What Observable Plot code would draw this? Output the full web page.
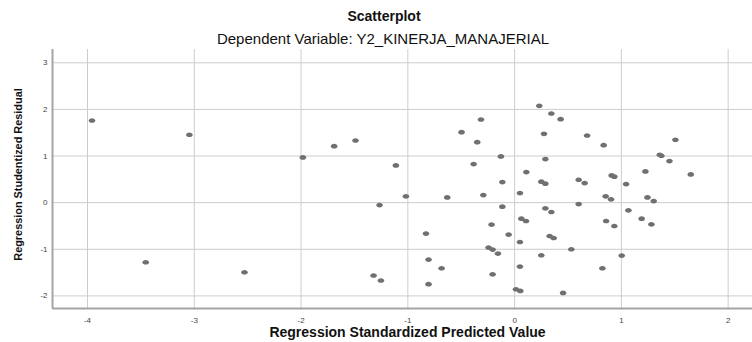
<!DOCTYPE html>
<html>
<head>
<meta charset="utf-8">
<script src="https://cdn.jsdelivr.net/npm/d3@7"></script>
<script src="https://cdn.jsdelivr.net/npm/@observablehq/plot@0.6"></script>
<style>
  html, body { margin: 0; padding: 0; background: #fff; }
  body { width: 752px; height: 342px; overflow: hidden; font-family: "Liberation Sans", Arial, sans-serif; }
  #head { position: relative; width: 752px; height: 49px; }
  #title { position: absolute; left: 0; width: 768px; top: 9px; text-align: center; font-size: 14px; line-height: 14px; font-weight: bold; color: #111; }
  #subtitle { position: absolute; left: 0; width: 766px; top: 31px; text-align: center; font-size: 15px; line-height: 15px; color: #111; }
</style>
</head>
<body>
<div id="head">
  <div id="title">Scatterplot</div>
  <div id="subtitle">Dependent Variable: Y2_KINERJA_MANAJERIAL</div>
</div>
<div id="chart"></div>
<script>
const predicted = [
  -3.958, -3.046, -3.455, -2.530, -1.983, -1.690, -1.490, -1.112, -1.018, -1.265,
  -0.830, -0.806, -0.684, -1.321, -1.252, -0.806, -0.631, -0.497, -0.315, -0.350,
  -0.384, -0.293, -0.216, -0.244, -0.206, -0.156, -0.206, -0.128, -0.115, -0.115,
  -0.056, 0.050, 0.050, 0.013, 0.053, 0.454, 0.050, 0.063, 0.107, 0.110,
  0.231, 0.344, 0.431, 0.275, 0.288, 0.250, 0.288, 0.288, 0.344, 0.328,
  0.366, 0.250, 0.531, 0.600, 0.600, 0.656, 0.679, 0.834, 0.909, 0.934,
  0.853, 0.903, 0.857, 0.934, 0.822, 1.003, 1.044, 1.066, 1.190, 1.281,
  1.244, 1.303, 1.225, 1.359, 1.375, 1.450, 1.506, 1.650
];
const residual = [
  1.762, 1.456, -1.278, -1.493, 0.970, 1.212, 1.334, 0.799, 0.135, -0.051,
  -0.664, -1.221, -1.407, -1.563, -1.670, -1.749, 0.113, 1.512, 1.784, 1.298,
  0.827, 0.163, -0.471, -0.964, -1.006, -1.092, -1.535, 0.991, 0.441, -0.086,
  -0.685, -0.843, -1.371, -1.857, -1.893, -1.935, 0.206, -0.343, -0.394, 0.656,
  2.077, 1.912, 1.791, 1.477, 0.934, 0.450, 0.407, -0.122, -0.201, -0.715,
  -0.758, -1.128, -1.000, -0.030, 0.492, 0.420, 1.441, 1.233, 0.585, 0.557,
  0.135, 0.071, -0.394, -0.501, -1.407, -1.135, 0.398, -0.165, -0.343, -0.465,
  0.113, 0.034, 0.670, 1.028, 1.006, 0.891, 1.349, 0.606
];
const xTicks = [-4, -3, -2, -1, 0, 1, 2];
const yTicks = [-2, -1, 0, 1, 2, 3];
const xDomain = [-4.328, 2.228];
const yDomain = [-2.27, 3.285];
const xLabel = "Regression Standardized Predicted Value";
const yLabel = "Regression Studentized Residual";

const points = predicted.map((x, i) => ({x, y: residual[i]}));

// slightly flattened dot, like the reference's markers
const ellipse = {
  draw(ctx, size) {
    const r = Math.sqrt(size / Math.PI);
    const rx = r * 1.2, ry = r * 0.85, k = 0.5523;
    ctx.moveTo(rx, 0);
    ctx.bezierCurveTo(rx, ry * k, rx * k, ry, 0, ry);
    ctx.bezierCurveTo(-rx * k, ry, -rx, ry * k, -rx, 0);
    ctx.bezierCurveTo(-rx, -ry * k, -rx * k, -ry, 0, -ry);
    ctx.bezierCurveTo(rx * k, -ry, rx, -ry * k, rx, 0);
    ctx.closePath();
  }
};

const chart = Plot.plot({
  width: 752,
  height: 293,
  marginTop: 0,
  marginBottom: 34,
  marginLeft: 52,
  marginRight: 0,
  style: {fontFamily: "'Liberation Sans', Arial, sans-serif", background: "#fff"},
  x: {domain: xDomain},
  y: {domain: yDomain},
  marks: [
    Plot.gridX(xTicks, {stroke: "#cdcdcd", strokeOpacity: 1}),
    Plot.gridY(yTicks, {stroke: "#cdcdcd", strokeOpacity: 1}),
    Plot.ruleX([xDomain[0]], {stroke: "#a5a5a5", strokeWidth: 2}),
    Plot.ruleY([yDomain[0]], {stroke: "#a5a5a5", strokeWidth: 2}),
    Plot.axisX(xTicks, {tickSize: 0, tickPadding: 9, fontSize: 8, fill: "#444", tickFormat: d => String(d), label: null}),
    Plot.axisY(yTicks, {tickSize: 0, tickPadding: 5, fontSize: 8, fill: "#444", tickFormat: d => String(d), label: null}),
    Plot.dot(points, {x: "x", y: "y", r: 2.75, symbol: ellipse, fill: "#707070", stroke: "none"}),
    Plot.text([xLabel], {frameAnchor: "bottom", text: d => d, dy: 24.5, dx: 5, textAnchor: "middle", lineAnchor: "middle", fontSize: 14, fontWeight: "bold", fill: "#111"}),
    Plot.text([yLabel], {frameAnchor: "left", text: d => d, rotate: -90, dx: -34, dy: -4.5, textAnchor: "middle", lineAnchor: "middle", fontSize: 10.9, fontWeight: "bold", fill: "#111"})
  ]
});
document.getElementById("chart").appendChild(chart);
</script>
</body>
</html>
